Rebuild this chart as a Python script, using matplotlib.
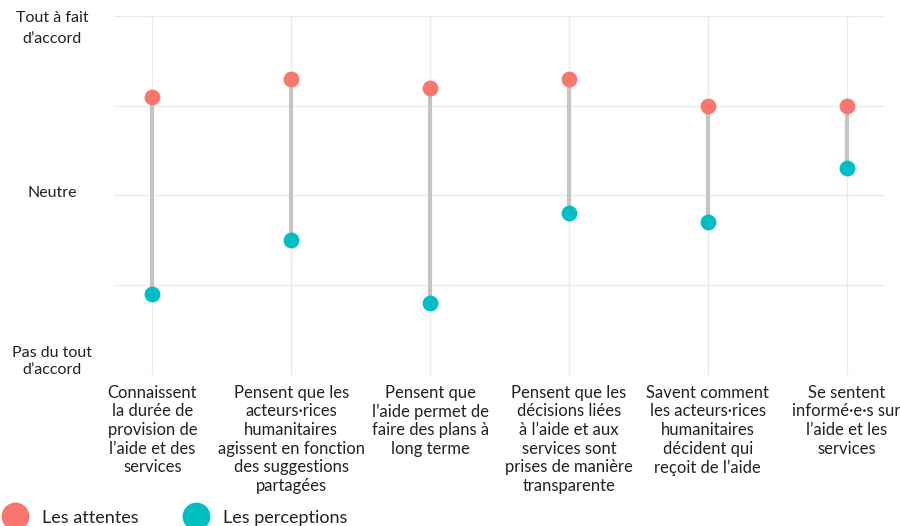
import matplotlib.pyplot as plt
from matplotlib.lines import Line2D
from matplotlib.transforms import blended_transform_factory

plt.rcParams['font.family'] = ['Lato', 'DejaVu Sans']

categories = [
    "Connaissent\nla durée de\nprovision de\nl’aide et des\nservices",
    "Pensent que les\nacteurs·rices\nhumanitaires\nagissent en fonction\ndes suggestions\npartagées",
    "Pensent que\nl’aide permet de\nfaire des plans à\nlong terme",
    "Pensent que les\ndécisions liées\nà l’aide et aux\nservices sont\nprises de manière\ntransparente",
    "Savent comment\nles acteurs·rices\nhumanitaires\ndécident qui\nreçoit de l’aide",
    "Se sentent\ninformé·e·s sur\nl’aide et les\nservices",
]
attentes = [4.1, 4.3, 4.2, 4.3, 4.0, 4.0]
perceptions = [1.9, 2.5, 1.8, 2.8, 2.7, 3.3]
scale_ticks = [1, 2, 3, 4, 5]

red = '#F8766D'
teal = '#00BFC4'
grid = '#EBEBEB'
txt = '#222222'

fig = plt.figure(figsize=(9, 5.26), dpi=100)
ax = fig.add_axes([0.127, 0.287, 0.856, 0.683])

x = list(range(len(categories)))
for xi, a, p in zip(x, attentes, perceptions):
    ax.plot([xi, xi], [p, a], color='#C4C4C4', lw=3, zorder=2, solid_capstyle='butt')
ax.scatter(x, attentes, s=130, color=red, zorder=3, linewidths=0)
ax.scatter(x, perceptions, s=130, color=teal, zorder=3, linewidths=0)

ax.set_xlim(-0.275, 5.275)
ax.set_ylim(1, 5)
ax.set_yticks(scale_ticks)
ax.set_yticklabels([])
ax.set_xticks(x)
ax.set_xticklabels(categories, fontsize=12, color=txt, linespacing=1.2, va='top')
ax.tick_params(length=0, pad=7)
ax.grid(True, color=grid, lw=1)
ax.set_axisbelow(True)
for s in ax.spines.values():
    s.set_visible(False)

# labels for the agreement scale
tr = blended_transform_factory(fig.transFigure, ax.transData)
ax.text(0.058, 5.05, "Tout à fait\nd’accord", transform=tr, ha='center', va='top',
        fontsize=11.5, color=txt, linespacing=1.6)
ax.text(0.058, 3.03, "Neutre", transform=tr, ha='center', va='center', fontsize=11.5, color=txt)
ax.text(0.058, 0.98, "Pas du tout\nd’accord", transform=tr, ha='center', va='bottom',
        fontsize=11.5, color=txt, linespacing=1.3)

handles = [
    Line2D([], [], ls='none', marker='o', ms=19, color=red, label='Les attentes'),
    Line2D([], [], ls='none', marker='o', ms=19, color=teal, label='Les perceptions'),
]
fig.legend(handles=handles, loc='lower left', bbox_to_anchor=(-0.022, -0.03), ncol=2,
           frameon=False, fontsize=13, handletextpad=0.5, columnspacing=2.2,
           labelcolor=txt)

fig.savefig('out.png', dpi=100)
